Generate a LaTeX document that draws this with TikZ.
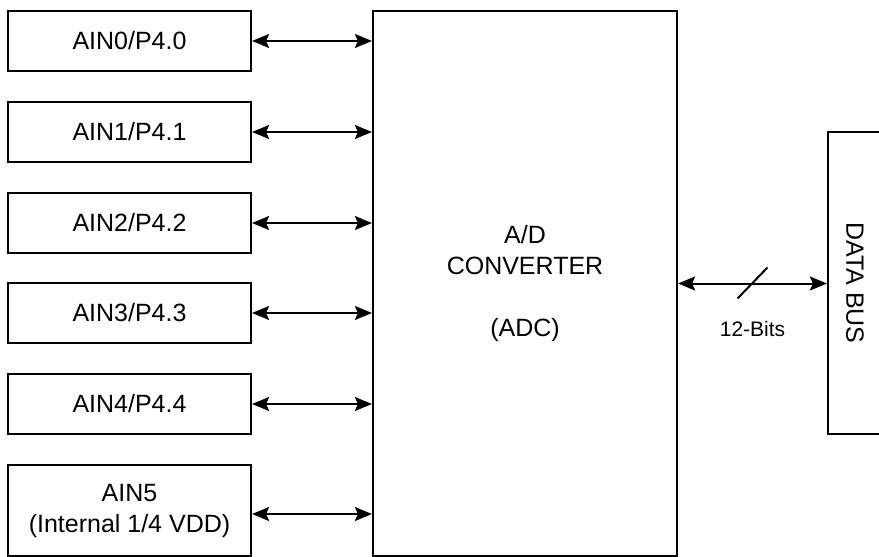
\documentclass[tikz,border=0pt]{standalone}
\usepackage{fontspec}
\setmainfont{Liberation Sans}
\usetikzlibrary{arrows.meta}

\begin{document}
\begin{tikzpicture}[x=1pt, y=-1pt, >={Stealth[length=17pt, width=14pt, inset=3pt]},
    pinbox/.style={draw, line width=2.2pt, minimum width=243pt, minimum height=60pt,
        inner sep=0pt, align=center, font=\fontsize{25}{31}\selectfont},
    link/.style={<->, line width=2pt}]
    \useasboundingbox (0,0) rectangle (879,557);

    % analog inputs
    \node[pinbox] (ain0) at (129.5, 41)  {AIN0/P4.0};
    \node[pinbox] (ain1) at (129.5, 132) {AIN1/P4.1};
    \node[pinbox] (ain2) at (129.5, 223) {AIN2/P4.2};
    \node[pinbox] (ain3) at (129.5, 313) {AIN3/P4.3};
    \node[pinbox] (ain4) at (129.5, 404) {AIN4/P4.4};
    \node[pinbox, minimum height=91pt] (ain5) at (129.5, 510.5) {AIN5\\(Internal 1/4 VDD)};

    % converter and bus
    \node[draw, line width=2.2pt, minimum width=304pt, minimum height=545pt, align=center,
        font=\fontsize{25}{31}\selectfont] (adc) at (525, 283.5) {A/D\\CONVERTER\\[31pt](ADC)};
    \node[draw, line width=2.2pt, minimum width=100pt, minimum height=302pt] (bus) at (878, 283) {};
    \node[rotate=-90, font=\fontsize{25}{31}\selectfont] (buslabel) at (855, 283) {DATA BUS};

    % connections
    \foreach \p in {ain0, ain1, ain2, ain3, ain4}
        \draw[link] (\p.east) -- (\p.east -| adc.west);
    \draw[link] ([yshift=-3.5pt]ain5.east) -- ([yshift=-3.5pt]ain5.east -| adc.west);
    \draw[link] (adc.east) -- (adc.east -| bus.west) coordinate[midway] (busmid);
    \draw[line width=2pt] ([shift={(-15pt,-15pt)}]busmid) -- ([shift={(15pt,16pt)}]busmid);
    \node[font=\fontsize{21}{25}\selectfont] (bits) at ([yshift=-45pt]busmid) {12-Bits};
\end{tikzpicture}
\end{document}
